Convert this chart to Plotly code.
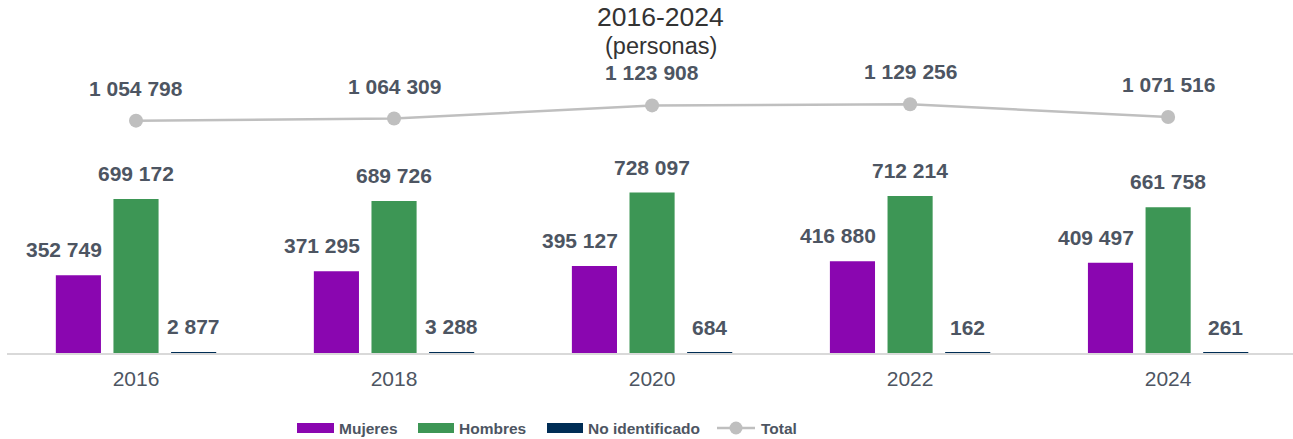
import plotly.graph_objects as go

years = ["2016", "2018", "2020", "2022", "2024"]
mujeres = [352749, 371295, 395127, 416880, 409497]
hombres = [699172, 689726, 728097, 712214, 661758]
no_ident = [2877, 3288, 684, 162, 261]
total = [1054798, 1064309, 1123908, 1129256, 1071516]

series_names = ["Mujeres", "Hombres", "No identificado", "Total"]
colors = {"Mujeres": "#8a06b0", "Hombres": "#3d9655", "No identificado": "#002d55", "Total": "#bfbfbf"}

TXT = "#4d5562"
FONT = "Liberation Sans, Arial, sans-serif"

W, H = 1293, 439
L, R, T, B = 7, 0, 0, 86
BARGAP = 0.33
GROUPGAP = 0.217


def fmt(v):
    return f"{v:,}".replace(",", " ")


fig = go.Figure()
bar_series = [("Mujeres", mujeres), ("Hombres", hombres), ("No identificado", no_ident)]
for name, vals in bar_series:
    fig.add_trace(go.Bar(x=years, y=vals, name=name, marker_color=colors[name],
                         marker_line_width=0, showlegend=False, hoverinfo="skip"))

fig.add_trace(go.Scatter(x=years, y=total, name="Total", mode="lines+markers",
                         line=dict(color=colors["Total"], width=2.5),
                         marker=dict(size=14, color=colors["Total"]),
                         showlegend=False, hoverinfo="skip"))

annotations = []
slot = (1 - BARGAP) / 3
for k, (name, vals) in enumerate(bar_series):
    for i, v in enumerate(vals):
        annotations.append(dict(
            x=i + (k - 1) * slot, y=v, xref="x", yref="y", text=fmt(v),
            showarrow=False, yanchor="bottom", yshift=12,
            xshift=-14 if name == "Mujeres" else 0,
            font=dict(family=FONT, size=21, color=TXT, weight="bold")))
for i, v in enumerate(total):
    annotations.append(dict(
        x=i, y=v, xref="x", yref="y", text=fmt(v), showarrow=False,
        yanchor="bottom", yshift=19,
        font=dict(family=FONT, size=21, color=TXT, weight="bold")))

pw = W - L - R
ph = H - T - B


def px(x):
    return (x - L) / pw


def py(y):
    return 1 - (y - T) / ph


annotations.append(dict(x=px(660), y=py(17), xref="paper", yref="paper", text="2016-2024",
                        showarrow=False, xanchor="center", yanchor="middle",
                        font=dict(family=FONT, size=26.5, color="#333333")))
annotations.append(dict(x=px(661), y=py(46), xref="paper", yref="paper", text="(personas)",
                        showarrow=False, xanchor="center", yanchor="middle",
                        font=dict(family=FONT, size=23.5, color="#333333")))

# Custom legend
shapes = []
leg_y = 428
legend_items = [("Mujeres", 297, 334, 337), ("Hombres", 418, 454, 457),
                ("No identificado", 547, 583, 586), ("Total", 717, 755, 759)]
for name, x0, x1, tx in legend_items:
    if name == "Total":
        shapes.append(dict(type="line", xref="paper", yref="paper",
                           x0=px(x0), x1=px(x1), y0=py(leg_y), y1=py(leg_y),
                           line=dict(color=colors[name], width=2.5)))
        cx = (x0 + x1) / 2
        shapes.append(dict(type="circle", xref="paper", yref="paper",
                           x0=px(cx - 6.5), x1=px(cx + 6.5), y0=py(leg_y + 6.5), y1=py(leg_y - 6.5),
                           fillcolor=colors[name], line=dict(width=0)))
    else:
        shapes.append(dict(type="rect", xref="paper", yref="paper",
                           x0=px(x0), x1=px(x1), y0=py(leg_y + 5), y1=py(leg_y - 5),
                           fillcolor=colors[name], line=dict(width=0)))
    annotations.append(dict(x=px(tx), y=py(leg_y), xref="paper", yref="paper", text=name,
                            showarrow=False, xanchor="left", yanchor="middle",
                            font=dict(family=FONT, size=15.5, color=TXT, weight="bold")))

fig.update_layout(
    width=W, height=H,
    margin=dict(l=L, r=R, t=T, b=B, pad=0),
    plot_bgcolor="white", paper_bgcolor="white",
    barmode="group", bargap=BARGAP, bargroupgap=GROUPGAP,
    annotations=annotations, shapes=shapes,
    showlegend=False,
    xaxis=dict(type="category", range=[-0.5, 4.484], showgrid=False, zeroline=False,
               showline=True, linecolor="#d9d9d9", linewidth=1.5, ticks="", layer="above traces",
               tickfont=dict(family=FONT, size=21, color=TXT), ticklabelstandoff=6),
    yaxis=dict(range=[0, 1602360], visible=False, showgrid=False, zeroline=False),
)

fig.write_html("out.html", config={"displayModeBar": False},
               post_script="document.body.style.margin='0';document.body.style.overflow='hidden';")
